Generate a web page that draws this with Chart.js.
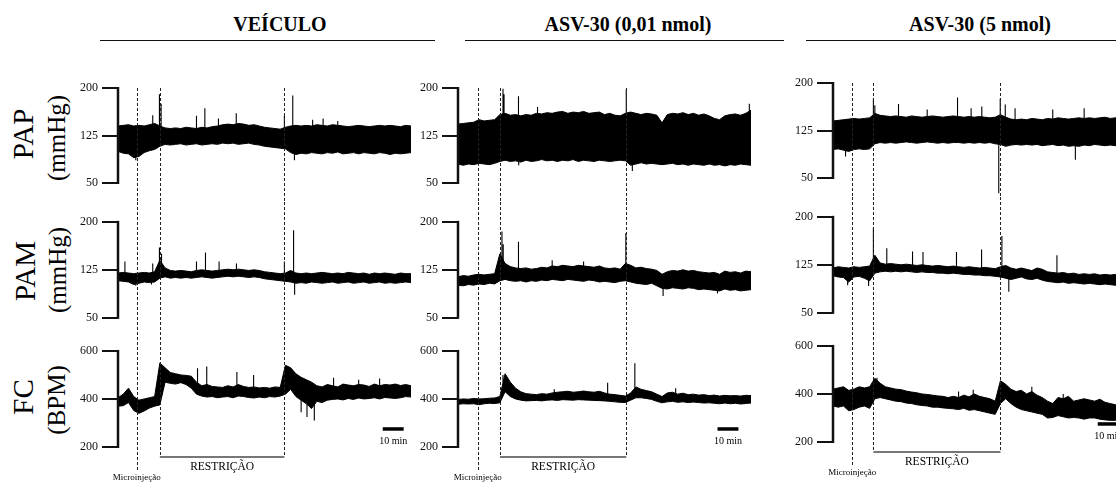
<!DOCTYPE html>
<html>
<head>
<meta charset="utf-8">
<script src="https://cdn.jsdelivr.net/npm/chart.js@4.4.1/dist/chart.umd.min.js"></script>
<style>
  html, body { margin: 0; padding: 0; background: #fff; overflow: hidden; }
  body { width: 1116px; height: 483px; position: relative; font-family: 'Liberation Serif', 'DejaVu Serif', serif; color: #000; }
  .t { position: absolute; white-space: nowrap; transform: translate(-50%, -50%); line-height: 1; }
  .title { position: absolute; font-weight: bold; font-size: 20px; line-height: 20px; white-space: nowrap; transform: translateX(-50%); }
  .rule { position: absolute; height: 0; border-top: 1.5px solid #111; }
  .rot { position: absolute; white-space: nowrap; line-height: 1; transform: translate(-50%, -50%) rotate(-90deg); }
  canvas { position: absolute; }
</style>
</head>
<body>
<script>
// time axis (minutes) shared by every trace
const minutes = [0,2.5,5,7.5,10,12.5,15,17.5,20,22.5,25,27.5,30,32.5,35,37.5,40,42.5,45,47.5,
  50,52.5,55,57.5,60,62.5,65,67.5,70,72.5,75,77.5,80,82.5,85,87.5,90,92.5,95,97.5,
  100,102.5,105,107.5,110,112.5,115,117.5,120,122.5,125,127.5,130,132.5,135,137.5,140];

const groups = ['VEÍCULO', 'ASV-30 (0,01 nmol)', 'ASV-30 (5 nmol)'];
const rowNames = ['PAP', 'PAM', 'FC'];
const rowUnits = ['(mmHg)', '(mmHg)', '(BPM)'];
const pressureTicks = [50, 125, 200];
const rateTicks = [200, 400, 600];

// microinjection, restraint start, restraint end (min)
const eventsVeh = [9, 20, 79.5];
const eventsLow = [9.4, 20.1, 80.4];
const eventsHigh = [9.2, 19.3, 80];

// ---- VEÍCULO ----
const papHiVeh = [140,141,142,140,141,140,142,144,140,137,136,137,136,138,137,136,138,137,139,140,
  142,143,142,144,143,141,142,140,138,137,136,135,138,140,141,140,141,140,142,141,
  140,142,141,140,139,140,141,140,139,140,141,140,141,140,139,141,140];
const papLoVeh = [100,97,96,90,92,98,101,103,108,111,110,111,112,110,111,112,110,111,112,111,
  113,112,113,111,112,113,111,110,108,107,106,105,104,98,95,97,96,98,97,96,
  98,97,99,96,97,98,96,98,97,96,98,97,95,97,96,97,98];
const papSpikesVeh = [[16.6,157],[19.8,190],[20.6,175],[37.5,156],[41.5,168],[48,152],[56.5,160],
  [79.5,156],[83.5,188],[84.3,86],[93,150],[98,152],[8.5,86],[105,148]];

const pamHiVeh = [120,121,120,119,120,121,120,122,140,128,124,123,124,123,122,124,125,124,123,124,
  125,126,125,126,125,124,125,124,122,121,120,119,120,124,120,119,120,119,120,121,
  120,119,120,119,121,120,119,120,118,120,119,120,119,118,120,119,119];
const pamLoVeh = [108,107,106,102,104,106,105,106,112,114,112,113,112,113,112,113,114,113,112,113,
  114,115,114,115,114,113,114,113,111,110,109,108,107,106,104,105,104,106,105,104,
  105,106,104,105,106,104,105,106,104,105,106,104,105,104,105,106,105];
const pamSpikesVeh = [[3.3,138],[16.6,135],[19.8,160],[20.8,150],[37.5,138],[41.8,152],[48.3,138],
  [56.6,135],[79.5,138],[83.9,187],[84.4,86],[16,102],[8.5,100]];

const fcHiVeh = [405,420,445,410,395,400,405,410,550,530,510,505,500,498,495,470,455,460,452,450,
  448,455,450,460,452,448,450,446,448,445,450,448,540,530,505,490,480,470,455,450,
  460,455,450,462,458,455,460,458,452,462,455,460,458,462,456,460,455];
const fcLoVeh = [370,372,385,352,340,350,362,370,375,470,465,462,468,460,445,420,412,408,410,405,
  408,410,405,412,410,406,404,408,405,410,408,412,420,440,410,395,380,360,390,385,
  395,398,400,396,402,398,404,400,402,405,400,406,404,402,405,410,408];
const fcSpikesVeh = [[38,528],[42.4,535],[56.8,512],[64.8,500],[103,488],[115,480],[125,485],
  [93.8,310],[90.3,325],[87.5,345]];

// ---- ASV-30 (0,01 nmol) ----
const papHiLow = [143,144,145,146,150,148,149,150,158,160,157,158,156,158,157,160,159,161,160,162,
  163,160,162,161,163,160,161,162,158,160,157,156,160,162,160,158,160,159,157,145,
  158,160,159,161,158,160,157,159,156,152,150,156,158,159,157,160,165];
const papLoLow = [80,78,80,79,81,80,79,81,84,86,84,85,83,86,84,85,87,85,86,84,
  86,85,87,84,86,85,84,86,85,84,85,86,85,78,80,82,80,81,80,79,
  80,81,79,80,78,80,79,78,80,78,79,77,79,78,80,79,78];
const papSpikesLow = [[21.5,199],[22,190],[28.9,187],[38,170],[80.4,198],[139.2,175],[83.3,69],[29,78]];

const pamHiLow = [114,116,115,117,118,117,118,119,150,135,130,128,127,128,126,127,129,128,131,130,
  132,131,130,132,131,130,129,131,128,127,128,126,135,132,128,129,127,126,124,118,
  122,124,123,125,123,124,122,121,120,121,118,123,121,122,120,123,122];
const pamLoLow = [101,100,102,101,103,102,104,103,108,110,108,107,108,106,108,107,109,108,110,109,
  108,110,109,108,107,109,108,106,107,106,105,107,108,106,104,103,102,104,100,96,
  95,97,96,95,97,96,94,95,94,93,92,95,93,94,92,93,94];
const pamSpikesLow = [[21,185],[21.6,165],[28.9,169],[45,140],[60,138],[80.2,182],[98,84],[124,88]];

const fcHiLow = [398,400,399,402,400,401,403,404,410,505,470,445,430,422,420,418,422,420,425,428,
  430,432,428,430,433,430,428,432,425,420,418,415,412,425,450,440,435,430,420,410,
  425,428,420,424,418,420,416,418,414,416,412,415,413,414,412,415,414];
const fcLoLow = [378,380,379,380,376,380,382,381,384,430,410,400,395,392,393,394,392,395,396,394,
  397,396,395,397,396,395,394,393,392,390,388,386,385,395,405,405,402,398,390,384,
  388,390,386,388,385,387,385,383,384,382,380,383,380,382,379,381,383];
const fcSpikesLow = [[84.5,549],[71.5,467],[46,440],[104,445],[21.5,500]];

// ---- ASV-30 (5 nmol) ----
const papHiHigh = [140,141,142,143,144,143,144,145,152,149,148,147,148,147,146,148,147,146,147,148,
  147,146,147,148,147,146,147,146,147,146,145,146,150,146,143,142,143,142,144,143,
  142,144,143,145,144,143,144,145,144,145,144,145,146,144,145,144,145];
const papLoHigh = [95,96,94,92,95,96,95,96,104,106,105,106,105,106,107,106,105,106,107,106,
  105,106,105,106,106,105,106,105,106,105,106,104,103,100,102,103,102,103,102,103,
  101,102,103,101,102,100,101,100,102,101,103,102,101,102,101,102,101];
const papSpikesHigh = [[19.3,175],[20,165],[31.3,167],[45,158],[59.5,177],[66,160],[71.1,163],
  [79.9,175],[82.3,166],[79.2,26],[115.8,79],[6,84],[87,160],[105,158],[120,160]];

const pamHiHigh = [120,122,121,120,122,121,122,123,140,128,126,127,126,125,126,125,124,125,124,123,
  124,123,122,123,122,121,122,121,120,121,120,119,122,124,120,118,120,118,116,120,
  118,114,113,112,113,111,112,110,111,110,111,109,110,109,110,109,110];
const pamLoHigh = [108,106,105,98,106,107,104,100,112,114,115,114,115,114,115,114,113,114,113,113,
  112,112,111,112,111,110,110,109,109,108,108,107,106,104,102,104,106,103,102,104,
  101,99,98,97,98,96,97,96,95,96,95,94,95,94,93,94,93];
const pamSpikesHigh = [[19.3,183],[25.7,151],[38,146],[43,145],[59,145],[71,149],[80.7,170],
  [84,83],[107,140],[7,93],[17,92]];

const fcHiHigh = [420,425,430,415,420,430,425,430,465,445,430,425,420,418,412,408,405,400,398,395,
  392,390,385,390,385,395,388,400,390,385,380,370,455,440,420,410,415,400,410,395,
  385,370,360,385,380,390,370,375,380,375,370,378,365,360,355,350,350];
const fcLoHigh = [350,345,350,330,335,345,350,340,380,385,380,375,370,368,362,360,355,352,350,345,
  345,342,340,338,335,340,332,335,330,325,320,315,360,380,360,345,335,330,325,320,
  315,300,302,310,305,300,302,300,295,300,300,295,292,290,290,288,288];
const fcSpikesHigh = [[21,468],[60,410],[67,418],[95,430],[110,400]];

// ---- layout ----
const FONT = "'Liberation Serif', 'DejaVu Serif', serif";
Chart.defaults.font.family = FONT;
Chart.defaults.color = '#000';

const colLeft = [78, 418, 793];
const colShift = [0, 0, -5];
const canvasW = 333, axisW = 40;
const rows = [
  { top: 69, h: 133, min: 20, max: 230, ticks: pressureTicks },
  { top: 202, h: 135, min: 20, max: 231, ticks: pressureTicks },
  { top: 337, h: 146, min: 50, max: 658, ticks: rateTicks }
];
// annotation levels in the FC scale
const fcMarks = { bracket: 158, microEnd: 104, bar: 275, barStart: [126.5, 124, 126.5], barLen: 10,
  restrLabel: 117, microLabel: 75, barLabel: 225 };

const panels = [
  { events: eventsVeh, traces: [[papHiVeh, papLoVeh, papSpikesVeh], [pamHiVeh, pamLoVeh, pamSpikesVeh], [fcHiVeh, fcLoVeh, fcSpikesVeh]] },
  { events: eventsLow, traces: [[papHiLow, papLoLow, papSpikesLow], [pamHiLow, pamLoLow, pamSpikesLow], [fcHiLow, fcLoLow, fcSpikesLow]] },
  { events: eventsHigh, traces: [[papHiHigh, papLoHigh, papSpikesHigh], [pamHiHigh, pamLoHigh, pamSpikesHigh], [fcHiHigh, fcLoHigh, fcSpikesHigh]] }
];

function addText(cls, text, x, y, size, extra) {
  const d = document.createElement('div');
  d.className = cls;
  d.textContent = text;
  d.style.left = x + 'px';
  d.style.top = y + 'px';
  if (size) d.style.fontSize = size + 'px';
  if (extra) Object.assign(d.style, extra);
  document.body.appendChild(d);
  return d;
}

// titles and rules
addText('title', groups[0], 280, 14);
addText('title', groups[1], 628, 14);
addText('title', groups[2], 980, 14);
[[100, 335], [465, 319], [806, 320]].forEach(([l, w]) => {
  const r = document.createElement('div');
  r.className = 'rule';
  r.style.left = l + 'px'; r.style.top = '40px'; r.style.width = w + 'px';
  document.body.appendChild(r);
});

// row labels
const rowLabelPos = [[23, 134, 56, 138], [25, 271, 57, 270], [23, 397, 56, 400]];
rowNames.forEach((n, i) => {
  const p = rowLabelPos[i];
  addText('rot', n, p[0], p[1], 29);
  addText('rot', rowUnits[i], p[2], p[3], 25);
});

const traceMarks = {
  id: 'traceMarks',
  afterDraw(chart, args, o) {
    const { ctx, chartArea } = chart;
    const xs = chart.scales.x, ys = chart.scales.y;
    ctx.save();
    // bracket-style axis line between first and last tick
    ctx.strokeStyle = '#111';
    ctx.lineWidth = 2.5;
    ctx.beginPath();
    ctx.moveTo(chartArea.left, ys.getPixelForValue(o.ticks[0]) + 1);
    ctx.lineTo(chartArea.left, ys.getPixelForValue(o.ticks[2]) - 1);
    ctx.stroke();
    // event lines
    ctx.setLineDash([3, 2]);
    ctx.lineWidth = 1;
    ctx.strokeStyle = '#222';
    o.events.forEach((t, i) => {
      const px = Math.round(xs.getPixelForValue(t)) + 0.5;
      const top = o.row === 0 ? ys.getPixelForValue(o.ticks[2]) : 0;
      let bot = chart.height;
      if (o.row === 2) bot = ys.getPixelForValue(i === 0 ? fcMarks.microEnd : fcMarks.bracket);
      ctx.beginPath();
      ctx.moveTo(px, top);
      ctx.lineTo(px, bot);
      ctx.stroke();
    });
    ctx.setLineDash([]);
    if (o.row === 2) {
      const by = ys.getPixelForValue(fcMarks.bracket);
      ctx.strokeStyle = '#777';
      ctx.lineWidth = 2;
      ctx.beginPath();
      ctx.moveTo(xs.getPixelForValue(o.events[1]), by);
      ctx.lineTo(xs.getPixelForValue(o.events[2]), by);
      ctx.stroke();
      const sy = ys.getPixelForValue(fcMarks.bar);
      ctx.strokeStyle = '#000';
      ctx.lineWidth = 3.5;
      ctx.beginPath();
      ctx.moveTo(xs.getPixelForValue(o.barStart), sy);
      ctx.lineTo(xs.getPixelForValue(o.barStart + fcMarks.barLen), sy);
      ctx.stroke();
    }
    ctx.restore();
  }
};

function nearestMid(hi, lo, t) {
  let best = 0;
  minutes.forEach((m, i) => { if (Math.abs(m - t) < Math.abs(minutes[best] - t)) best = i; });
  return (hi[best] + lo[best]) / 2;
}

panels.forEach((panel, c) => {
  panel.traces.forEach(([hi, lo, spikes], r) => {
    const row = rows[r];
    const cv = document.createElement('canvas');
    cv.width = canvasW; cv.height = row.h;
    cv.style.left = colLeft[c] + 'px';
    cv.style.top = (row.top + colShift[c]) + 'px';
    cv.style.width = canvasW + 'px'; cv.style.height = row.h + 'px';
    document.body.appendChild(cv);

    const spikePts = [];
    spikes.forEach(([t, v]) => {
      spikePts.push({ x: t, y: nearestMid(hi, lo, t) }, { x: t, y: v }, { x: t, y: null });
    });

    const chart = new Chart(cv.getContext('2d'), {
      type: 'line',
      data: {
        datasets: [
          { data: minutes.map((t, i) => ({ x: t, y: hi[i] })), borderColor: '#000', backgroundColor: '#000',
            borderWidth: 1, pointRadius: 0, fill: '+1' },
          { data: minutes.map((t, i) => ({ x: t, y: lo[i] })), borderColor: '#000',
            borderWidth: 1, pointRadius: 0, fill: false },
          { data: spikePts, borderColor: '#000', borderWidth: 1.1, pointRadius: 0, fill: false, spanGaps: false }
        ]
      },
      options: {
        responsive: false,
        animation: false,
        events: [],
        layout: { padding: 0 },
        plugins: {
          legend: { display: false },
          tooltip: { enabled: false },
          traceMarks: { row: r, ticks: row.ticks, events: panel.events, barStart: fcMarks.barStart[c] }
        },
        scales: {
          x: { type: 'linear', min: 0, max: 140, display: false },
          y: {
            min: row.min, max: row.max,
            afterBuildTicks: s => { s.ticks = row.ticks.map(v => ({ value: v })); },
            afterFit: s => { s.width = axisW; s.paddingTop = 0; s.paddingBottom = 0; },
            border: { display: false },
            grid: { drawOnChartArea: false, drawTicks: true, tickLength: 16, lineWidth: 2, color: '#111' },
            ticks: { color: '#111', padding: 4, font: { size: 12, family: FONT } }
          }
        }
      },
      plugins: [traceMarks]
    });

    if (r === 2) {
      const xs = chart.scales.x, ys = chart.scales.y;
      const ox = colLeft[c], oy = row.top + colShift[c];
      const ev = panel.events;
      addText('t', 'RESTRIÇÃO', ox + xs.getPixelForValue((ev[1] + ev[2]) / 2), oy + ys.getPixelForValue(fcMarks.restrLabel), 11.5);
      addText('t', 'Microinjeção', ox + xs.getPixelForValue(ev[0]), oy + ys.getPixelForValue(fcMarks.microLabel), 9);
      addText('t', '10 min', ox + xs.getPixelForValue(fcMarks.barStart[c] + fcMarks.barLen / 2), oy + ys.getPixelForValue(fcMarks.barLabel), 10);
    }
  });
});
</script>
</body>
</html>
